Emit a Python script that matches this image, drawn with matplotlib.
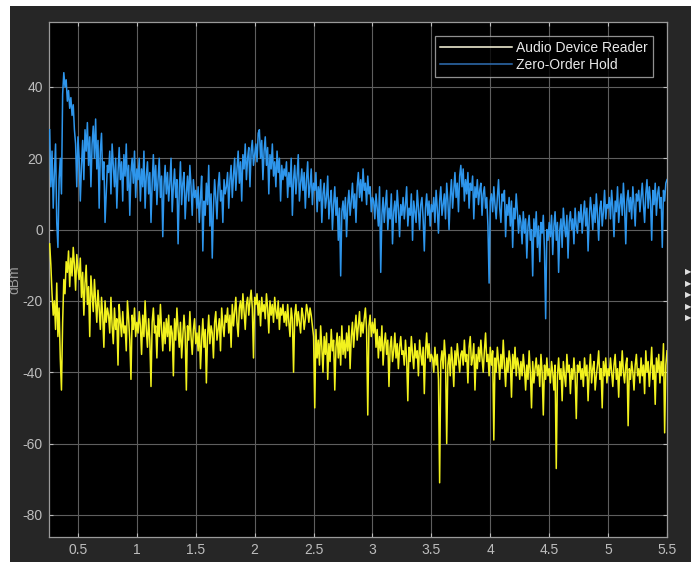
import numpy as np
import matplotlib
matplotlib.use("Agg")
import matplotlib.pyplot as plt
from matplotlib.patches import Rectangle

# ---- data (frequency axis, uniform bins) ----
freq_start = 0.26
freq_step = 0.01

zoh_dbm = [
    28, 12, 22, 6, 16, 24, 2, -5, 14, 20, 10, 38, 44, 40, 42, 36, 39, 34, 37, 32, 35, 28, 24, 12, 26,
    20, 8, 18, 25, 14, 28, 22, 30, 18, 26, 12, 24, 29, 20, 31, 17, 25, 6, 22, 27, 14, 19, 2, 10, 18,
    16, 22, 10, 24, 18, 12, 20, 6, 16, 23, 14, 19, 8, 21, 15, 24, 11, 18, 4, 16, 20, 13, 22, 9, 17,
    14, 20, 8, 17, 12, 22, 6, 15, 19, 10, 16, 2, 13, 21, 11, 18, 7, 14, 20, 9, 15, -2, 12, 18, 10,
    16, 8, 13, 20, 5, 12, 17, 9, 14, -4, 11, 19, 7, 13, 16, 3, 10, 15, 8, 18, 12, 4, 14, 9, 11,
    6, 12, 2, 9, 15, -6, 8, 4, 13, 7, 18, 1, 10, -8, 6, 14, 9, 3, 12, 16, 8, 11, 2, 14, 10,
    12, 16, 6, 14, 18, 9, 15, 20, 11, 17, 22, 13, 19, 8, 21, 17, 24, 14, 20, 23, 12, 22, 25, 18, 21,
    24, 19, 27, 28, 20, 25, 14, 22, 26, 18, 23, 10, 21, 17, 24, 15, 19, 12, 22, 16, 20, 8, 18, 14, 17,
    15, 19, 9, 16, 12, 20, 4, 14, 18, 10, 15, 21, 8, 13, 17, 11, 16, 6, 14, 19, 9, 12, 17, 7, 13,
    11, 16, 5, 12, 8, 14, 2, 10, 13, 6, 9, 15, 3, 8, 11, 0, 7, 12, 4, 9, -3, 6, -13, 5, 8,
    3, 9, -2, 7, 11, 4, 8, 13, 6, 10, 2, 12, 16, 9, 14, 8, 17, 11, 13, 7, 15, 10, 12, 5, 9,
    8, 3, 10, 6, 1, 12, -12, 4, 9, 2, 7, 11, 0, 6, 3, 10, -4, 5, 8, 2, 11, 6, -2, 7, 4,
    9, 3, 7, 12, 1, 6, 4, 10, -3, 8, 5, 2, 11, 6, 0, 7, 9, 3, -6, 6, 10, 4, 8, 1, 7,
    5, 9, 2, 11, 6, -1, 8, 12, 4, 7, 10, 3, 13, 8, 0, 9, 14, 6, 11, 16, 9, 13, 5, 15, 18,
    12, 17, 8, 14, 10, 16, 6, 13, 11, 15, 3, 12, 9, 14, 7, 11, 13, 4, 10, 12, 6, 9, 1, -15, 8,
    10, 5, 12, 7, 3, 9, 14, 6, 2, 10, 8, 11, -2, 7, 4, 9, 1, 8, -5, 6, 3, 10, 5, -1, 4,
    2, -4, 5, -1, 3, -8, 1, 4, -3, 0, -13, 3, -2, 5, -5, 1, -9, 2, -1, 4, -6, -25, 0, -3, 2,
    -2, 4, -7, 1, 5, -3, 2, -12, 0, 3, -5, 6, 1, -2, 4, -8, 2, 5, 0, 3, -4, 6, 1, -1, 5,
    2, 7, -1, 4, 8, 1, 6, -6, 3, 9, 5, 0, 7, 2, 10, 4, -3, 6, 8, 1, 5, 11, 3, 7, 6,
    9, 3, 11, 6, -2, 8, 5, 12, 2, 7, 10, 4, 13, 6, -4, 8, 11, 5, 9, 3, 12, 7, 1, 10, 8,
    11, 5, 9, 13, 7, 2, 10, 14, 6, 12, 8, -3, 11, 7, 13, 4, 10, 12, 6, 9, -5, 11, 8, 13, 14,
]

adr_dbm = [
    -4, -10, -18, -24, -20, -28, -15, -30, -22, -36, -45, -26, -14, -18, -9, -12, -6, -16, -8, -13, -5, -10, -17, -7, -11,
    -14, -8, -19, -12, -24, -15, -10, -21, -16, -30, -13, -18, -23, -14, -20, -26, -17, -22, -28, -19, -24, -33, -20, -26, -22,
    -24, -29, -19, -27, -32, -22, -28, -25, -38, -21, -26, -30, -23, -29, -27, -34, -20, -25, -31, -42, -24, -28, -22, -30, -26,
    -29, -23, -27, -35, -24, -30, -20, -28, -33, -25, -31, -44, -26, -22, -29, -27, -36, -24, -30, -21, -28, -34, -26, -32, -25,
    -30, -24, -34, -27, -29, -41, -25, -31, -22, -28, -33, -26, -36, -30, -24, -29, -45, -27, -31, -23, -30, -35, -28, -25, -32,
    -29, -34, -27, -39, -31, -25, -33, -28, -43, -30, -24, -32, -27, -29, -36, -26, -23, -31, -28, -25, -34, -22, -27, -30, -24,
    -26, -22, -29, -24, -33, -21, -27, -23, -19, -26, -30, -22, -20, -25, -18, -23, -28, -21, -19, -24, -20, -17, -22, -36, -19,
    -21, -18, -24, -20, -27, -19, -23, -21, -25, -18, -22, -29, -20, -24, -21, -26, -19, -23, -25, -20, -28, -22, -24, -21, -26,
    -23, -27, -21, -26, -30, -22, -25, -40, -24, -21, -27, -23, -26, -29, -22, -24, -28, -25, -21, -23, -26, -22, -24, -27, -30,
    -50, -28, -36, -31, -38, -27, -33, -40, -30, -35, -29, -42, -32, -37, -28, -34, -31, -45, -33, -29, -36, -30, -38, -27, -35,
    -31, -36, -29, -34, -27, -39, -30, -26, -33, -28, -24, -31, -27, -23, -30, -26, -29, -25, -22, -28, -52, -27, -24, -30, -26,
    -29, -25, -33, -28, -36, -30, -34, -27, -38, -32, -29, -35, -31, -44, -33, -30, -37, -34, -29, -36, -32, -39, -33, -30, -35,
    -34, -38, -31, -36, -48, -33, -37, -30, -35, -39, -32, -36, -34, -41, -31, -35, -38, -33, -46, -34, -29, -36, -32, -37, -35,
    -36, -40, -33, -38, -35, -42, -71, -37, -34, -39, -31, -36, -60, -38, -35, -41, -33, -37, -44, -34, -38, -32, -36, -40, -35,
    -34, -38, -31, -37, -35, -43, -33, -30, -38, -36, -32, -45, -35, -39, -33, -37, -31, -36, -40, -34, -29, -37, -35, -41, -33,
    -38, -34, -59, -36, -40, -33, -37, -42, -35, -39, -31, -38, -44, -36, -40, -34, -37, -47, -35, -39, -33, -41, -36, -38, -42,
    -37, -41, -35, -39, -45, -38, -42, -34, -40, -50, -37, -43, -39, -36, -41, -38, -44, -35, -40, -52, -38, -42, -36, -41, -39,
    -43, -37, -40, -45, -38, -67, -41, -36, -42, -39, -48, -37, -41, -44, -35, -40, -38, -46, -39, -42, -36, -41, -53, -38, -40,
    -37, -42, -39, -44, -36, -41, -38, -48, -40, -35, -43, -39, -37, -45, -41, -38, -34, -42, -39, -50, -37, -41, -36, -43, -39,
    -41, -36, -40, -44, -38, -35, -42, -39, -47, -37, -41, -34, -40, -43, -38, -36, -55, -39, -42, -37, -40, -45, -38, -35, -41,
    -39, -43, -36, -41, -38, -46, -34, -40, -37, -44, -39, -33, -42, -38, -49, -36, -40, -35, -43, -37, -41, -32, -57, -38, -34,
]

series_names = ["Audio Device Reader", "Zero-Order Hold"]
x_ticks = [0.5, 1, 1.5, 2, 2.5, 3, 3.5, 4, 4.5, 5, 5.5]
x_tick_labels = ["0.5", "1", "1.5", "2", "2.5", "3", "3.5", "4", "4.5", "5", "5.5"]
y_ticks = [-80, -60, -40, -20, 0, 20, 40]
y_tick_labels = ["-80", "-60", "-40", "-20", "0", "20", "40"]

freq = freq_start + freq_step * np.arange(len(zoh_dbm))

# ---- style ----
plt.rcParams["font.family"] = ["Liberation Sans", "DejaVu Sans"]
W, H = 691, 562
fig = plt.figure(figsize=(W / 100, H / 100), dpi=100, facecolor="#262626")
ax = fig.add_axes([48.5 / W, 1 - 537 / H, (667 - 48.5) / W, (537 - 22) / H])
ax.set_facecolor("black")

ax.plot(freq, adr_dbm, color="#f2f21e", lw=1.1, label=series_names[0], zorder=3)
ax.plot(freq, zoh_dbm, color="#2e96ec", lw=1.1, label=series_names[1], zorder=3)

ax.set_xlim(0.25, 5.5)
ax.set_ylim(-86.2, 58.2)
ax.set_xticks(x_ticks)
ax.set_xticklabels(x_tick_labels)
ax.set_yticks(y_ticks)
ax.set_yticklabels(y_tick_labels)

ax.grid(True, color="#5e5e5e", lw=0.8)
ax.set_axisbelow(True)
for s in ax.spines.values():
    s.set_color("#9a9a9a")
    s.set_linewidth(0.9)
ax.tick_params(axis="both", direction="in", length=3, width=0.8, color="#bdbdbd",
               labelcolor="#bdbdbd", labelsize=10, top=True, right=True, pad=4)
ax.set_ylabel("dBm", color="#9a9a9a", fontsize=10, labelpad=1)

leg = ax.legend(loc="upper right", bbox_to_anchor=(0.977, 0.973), fontsize=10,
                frameon=True, fancybox=False, facecolor="black", edgecolor="#b5b5b5",
                labelcolor="#e8e8e8", handlelength=5.2, handletextpad=0.3,
                borderpad=0.35, labelspacing=0.25, borderaxespad=0)
leg.get_frame().set_linewidth(0.9)
leg.get_lines()[0].set_color("#fffbe0")
leg.get_lines()[1].set_color("#2f6fb5")

# white strips at top and left edges of the screenshot
fig.patches.append(Rectangle((0, 0), 10 / W, 1, transform=fig.transFigure,
                             facecolor="white", edgecolor="none", zorder=5))
fig.patches.append(Rectangle((0, 1 - 6 / H), 1, 6 / H, transform=fig.transFigure,
                             facecolor="white", edgecolor="none", zorder=5))
# small UI markers at the right edge
for k in range(5):
    fig.text(688 / W, 1 - (272 + 11.5 * k) / H, "\u25B6", color="#e0e0e0", fontsize=6,
             ha="center", va="center", family="DejaVu Sans")

fig.savefig("out.png", dpi=100, facecolor=fig.get_facecolor())
